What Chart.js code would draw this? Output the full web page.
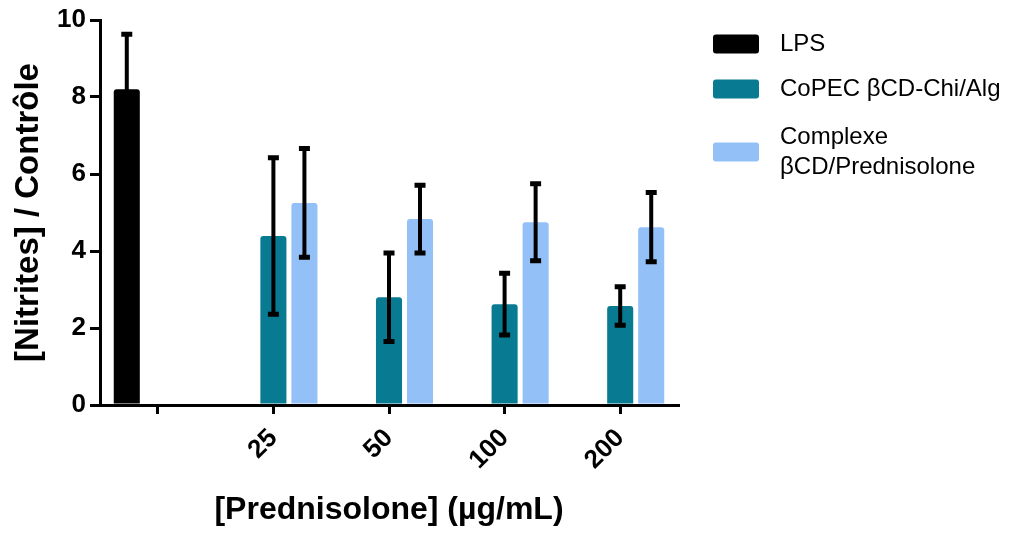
<!DOCTYPE html>
<html>
<head>
<meta charset="utf-8">
<script src="https://cdn.jsdelivr.net/npm/chart.js@4"></script>
<style>
  html, body { margin: 0; padding: 0; background: #fff; }
  #wrap { width: 1028px; height: 534px; }
</style>
</head>
<body>
<div id="wrap"><canvas id="nitriteChart" width="1028" height="534"></canvas></div>
<script>
// categories (first group = LPS alone, no label)
const doses = ['', '25', '50', '100', '200'];

// series values
const lpsMean = [8.2, null, null, null, null];
const lpsErr = [1.43, null, null, null, null];
const copecMean = [null, 4.39, 2.8, 2.62, 2.57];
const copecErr = [null, 2.03, 1.15, 0.8, 0.5];
const complexMean = [null, 5.25, 4.83, 4.75, 4.62];
const complexErr = [null, 1.41, 0.88, 1.0, 0.9];

const yTicks = [0, 2, 4, 6, 8, 10];

const seriesLabels = [['LPS'], ['CoPEC βCD-Chi/Alg'], ['Complexe', 'βCD/Prednisolone']];
const seriesColors = ['#000000', '#087b93', '#93c0f7'];

const FONT = '"Liberation Sans", Arial, sans-serif';

// error bars drawn on top of the bars
const errorBars = {
  id: 'errorBars',
  afterDatasetsDraw(chart) {
    const ctx = chart.ctx;
    const y = chart.scales.y;
    ctx.save();
    ctx.strokeStyle = '#000';
    ctx.lineCap = 'butt';
    chart.data.datasets.forEach((ds, i) => {
      const meta = chart.getDatasetMeta(i);
      meta.data.forEach((bar, j) => {
        const v = ds.data[j];
        const e = ds.errors[j];
        if (v == null || e == null) return;
        const yHi = y.getPixelForValue(v + e);
        const yLo = y.getPixelForValue(v - e);
        ctx.lineWidth = 4;
        ctx.beginPath();
        ctx.moveTo(bar.x, yHi);
        ctx.lineTo(bar.x, yLo);
        ctx.stroke();
        ctx.lineWidth = 5;
        ctx.beginPath();
        ctx.moveTo(bar.x - 5.5, yHi);
        ctx.lineTo(bar.x + 5.5, yHi);
        ctx.moveTo(bar.x - 5.5, yLo);
        ctx.lineTo(bar.x + 5.5, yLo);
        ctx.stroke();
      });
    });
    ctx.restore();
  }
};

// legend on the right, with a two-line entry
const sideLegend = {
  id: 'sideLegend',
  afterDraw(chart) {
    const ctx = chart.ctx;
    const x0 = chart.chartArea.right + 35;
    const rows = [44, 89, 152];
    ctx.save();
    ctx.font = '24px ' + FONT;
    ctx.textBaseline = 'middle';
    chart.data.datasets.forEach((ds, i) => {
      const cy = rows[i];
      ctx.fillStyle = ds.backgroundColor;
      ctx.beginPath();
      ctx.roundRect(x0, cy - 9.5, 46, 19, 3);
      ctx.fill();
      ctx.fillStyle = '#000';
      const lines = seriesLabels[i];
      const lh = 30;
      lines.forEach((t, k) => {
        ctx.fillText(t, x0 + 67, cy + (k - (lines.length - 1) / 2) * lh);
      });
    });
    ctx.restore();
  }
};

function makeDataset(i, data, errors) {
  return {
    label: seriesLabels[i].join(' '),
    data: data,
    errors: errors,
    backgroundColor: seriesColors[i],
    borderRadius: 3,
    borderSkipped: 'bottom',
    categoryPercentage: 0.805,
    barPercentage: 0.84
  };
}

const ctx = document.getElementById('nitriteChart').getContext('2d');
new Chart(ctx, {
  type: 'bar',
  data: {
    labels: doses,
    datasets: [
      makeDataset(0, lpsMean, lpsErr),
      makeDataset(1, copecMean, copecErr),
      makeDataset(2, complexMean, complexErr)
    ]
  },
  options: {
    responsive: false,
    animation: false,
    layout: { padding: { top: 20, right: 350, left: 0, bottom: 0 } },
    plugins: {
      legend: { display: false },
      tooltip: { enabled: false }
    },
    scales: {
      x: {
        offset: true,
        grid: { display: true, drawOnChartArea: false, offset: false, drawTicks: true, tickLength: 9, lineWidth: 3, color: '#000' },
        border: { display: true, width: 3, color: '#000' },
        ticks: {
          color: '#000',
          font: { family: FONT, size: 26, weight: 'bold' },
          minRotation: 45,
          maxRotation: 45,
          padding: 9
        },
        title: {
          display: true,
          text: '[Prednisolone] (µg/mL)',
          color: '#000',
          font: { family: FONT, size: 32, weight: 'bold' },
          padding: { top: 0, bottom: 5 }
        },
        afterFit(scale) { scale.height = 129; }
      },
      y: {
        min: 0,
        max: 10,
        afterBuildTicks(scale) { scale.ticks = yTicks.map(v => ({ value: v })); },
        grid: { display: true, drawOnChartArea: false, drawTicks: true, tickLength: 10, lineWidth: 3, color: '#000' },
        border: { display: true, width: 3, color: '#000' },
        ticks: {
          color: '#000',
          font: { family: FONT, size: 26, weight: 'bold' },
          padding: 4
        },
        title: {
          display: true,
          text: '[Nitrites] / Contrôle',
          color: '#000',
          font: { family: FONT, size: 33, weight: 'bold' },
          padding: { top: 9, bottom: 0 }
        },
        afterFit(scale) { scale.width = 100; }
      }
    }
  },
  plugins: [errorBars, sideLegend]
});
</script>
</body>
</html>
